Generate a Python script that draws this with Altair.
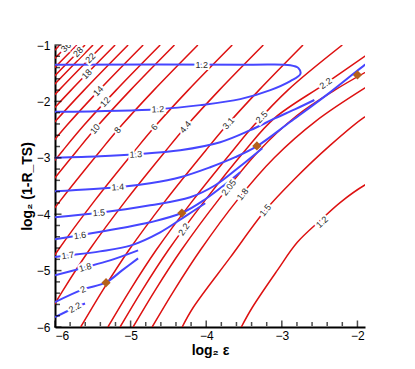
import altair as alt
import pandas as pd

# ---------------- red contours (x = log2 eps, y = log2(1-R_TS)) ----------------
red_40 = [(-7.218, -2.865), (-6.940, -2.42), (-6.516, -1.80), (-5.934, -1.0)]
red_36 = [(-7.112, -2.865), (-6.834, -2.42), (-6.410, -1.80), (-5.828, -1.0)]
red_32 = [(-6.993, -2.865), (-6.715, -2.42), (-6.291, -1.80), (-5.709, -1.0)]
red_28 = [(-6.887, -2.865), (-6.609, -2.42), (-6.185, -1.80), (-5.603, -1.0)]
red_25 = [(-6.781, -2.865), (-6.503, -2.42), (-6.079, -1.80), (-5.497, -1.0)]
red_22 = [(-6.648, -2.865), (-6.370, -2.42), (-5.946, -1.80), (-5.364, -1.0)]
red_18 = [(-7.019, -3.75), (-6.489, -2.865), (-6.211, -2.42), (-5.787, -1.80), (-5.205, -1.0)]
red_16 = [(-6.847, -3.75), (-6.317, -2.865), (-6.039, -2.42), (-5.615, -1.80), (-5.033, -1.0)]
red_14 = [(-6.648, -3.75), (-6.118, -2.865), (-5.840, -2.42), (-5.416, -1.80), (-4.834, -1.0)]
red_12 = [(-6.913, -4.64), (-6.423, -3.75), (-5.893, -2.865), (-5.615, -2.42), (-5.191, -1.80), (-4.609, -1.0)]
red_10 = [(-6.724, -4.64), (-6.234, -3.75), (-5.704, -2.865), (-5.426, -2.42), (-5.002, -1.80), (-4.420, -1.0)]
red_8 = [(-6.759, -5.35), (-6.414, -4.64), (-5.924, -3.75), (-5.394, -2.865), (-5.116, -2.42), (-4.692, -1.80), (-4.110, -1.0)]
red_6 = [(-6.596, -6.0), (-6.305, -5.35), (-5.960, -4.64), (-5.470, -3.75), (-4.940, -2.865), (-4.662, -2.42), (-4.238, -1.80), (-3.656, -1.0)]
red_4_4 = [(-6.185, -6.0), (-5.894, -5.35), (-5.549, -4.64), (-5.059, -3.75), (-4.529, -2.865), (-4.251, -2.42), (-3.827, -1.80), (-3.245, -1.0)]
red_3_1 = [(-5.660, -6.0), (-5.369, -5.35), (-5.024, -4.64), (-4.534, -3.75), (-4.004, -2.865), (-3.726, -2.42), (-3.302, -1.80), (-2.720, -1.0)]
red_2_5 = [(-5.300, -6.0), (-5.009, -5.35), (-4.664, -4.64), (-4.174, -3.75), (-3.644, -2.865), (-3.366, -2.42), (-2.920, -1.80), (-2.200, -1.0)]
red_2_2 = [(-5.139, -6.0), (-4.848, -5.35), (-4.503, -4.64), (-4.013, -3.75), (-3.483, -2.865), (-3.100, -2.30), (-2.420, -1.68), (-1.850, -1.15)]
red_2_05 = [(-4.967, -6.0), (-4.676, -5.35), (-4.331, -4.64), (-3.841, -3.75), (-3.320, -2.90), (-2.800, -2.25), (-2.300, -1.80), (-1.850, -1.45)]
red_1_8 = [(-4.715, -6.0), (-4.424, -5.35), (-4.079, -4.64), (-3.589, -3.75), (-3.100, -3.00), (-2.550, -2.35), (-1.850, -1.72)]
red_1_5 = [(-4.318, -6.0), (-4.172, -5.654), (-3.682, -4.766), (-3.219, -3.931), (-2.848, -3.398), (-2.358, -2.776), (-1.907, -2.279), (-1.850, -2.24)]
red_1_2 = [(-3.536, -6.0), (-3.391, -5.654), (-3.060, -4.996), (-2.795, -4.499), (-2.490, -4.108), (-2.225, -3.789), (-1.907, -3.487), (-1.850, -3.45)]

red_names = ["40", "36", "32", "28", "25", "22", "18", "16", "14", "12", "10", "8", "6",
             "4.4", "3.1", "2.5", "2.2", "2.05", "1.8", "1.5", "1.2"]
red_sets = [red_40, red_36, red_32, red_28, red_25, red_22, red_18, red_16, red_14, red_12,
            red_10, red_8, red_6, red_4_4, red_3_1, red_2_5, red_2_2, red_2_05, red_1_8,
            red_1_5, red_1_2]

# ---------------- blue contours ----------------
blue_1_2 = [(-6.0, -2.185), (-4.636, -2.137), (-4.079, -2.066), (-3.55, -1.96), (-3.152, -1.80),
            (-2.887, -1.64), (-2.755, -1.515), (-2.78, -1.41), (-2.887, -1.36), (-3.417, -1.35),
            (-6.0, -1.35)]
blue_1_3 = [(-6.0, -2.998), (-5.404, -2.972), (-4.927, -2.936), (-4.344, -2.865), (-3.815, -2.723),
            (-3.417, -2.510), (-3.086, -2.297), (-2.821, -2.137), (-2.570, -1.975)]
blue_1_4 = [(-6.0, -3.593), (-5.166, -3.522), (-4.742, -3.451), (-4.344, -3.345), (-3.947, -3.167),
            (-3.616, -2.989), (-3.328, -2.794), (-2.887, -2.362), (-2.358, -1.835), (-1.907, -1.355),
            (-1.85, -1.30)]
blue_1_5 = [(-6.0, -4.055), (-5.417, -3.975), (-4.742, -3.842), (-4.212, -3.700), (-3.881, -3.487),
            (-3.550, -3.149), (-3.258, -2.829)]
blue_1_6 = [(-6.0, -4.446), (-5.669, -4.375), (-5.139, -4.250), (-4.742, -4.144), (-4.318, -3.975),
            (-4.013, -3.735), (-3.748, -3.469), (-3.550, -3.256)]
blue_1_7 = [(-6.0, -4.757), (-5.828, -4.730), (-5.404, -4.659), (-4.993, -4.552), (-4.609, -4.321),
            (-4.278, -4.037), (-4.013, -3.806)]
blue_1_8 = [(-6.0, -5.085), (-5.603, -4.943), (-5.272, -4.819), (-4.901, -4.641)]
blue_2 = [(-6.0, -5.560), (-5.629, -5.334), (-5.325, -5.210), (-5.113, -4.996), (-4.901, -4.783)]
blue_2_2 = [(-6.0, -5.826), (-5.735, -5.654), (-5.603, -5.583)]

blue_names = ["1.2", "1.3", "1.4", "1.5", "1.6", "1.7", "1.8", "2", "2.2"]
blue_sets = [blue_1_2, blue_1_3, blue_1_4, blue_1_5, blue_1_6, blue_1_7, blue_1_8, blue_2, blue_2_2]

# ---------------- contour labels ----------------
red_label_text = ["1.2", "1.5", "1.8", "2.05", "2.2", "2.2", "2.5", "3.1", "4.4", "6", "8", "10",
                  "12", "14", "18", "22", "28", "36"]
red_label_x = [-2.468, -3.219, -3.52, -3.70, -4.295, -2.42, -3.265, -3.706, -4.274, -4.685, -5.172,
               -5.470, -5.336, -5.427, -5.580, -5.532, -5.693, -5.854]
red_label_y = [-4.139, -3.931, -3.647, -3.528, -4.268, -1.68, -2.279, -2.39, -2.456, -2.456, -2.51,
               -2.49, -2.012, -1.817, -1.515, -1.231, -1.124, -1.036]
red_label_angle = [317, 309, 309, 308, 306, 325, 314, 312, 310, 310, 310, 310, 312, 313, 314, 315, 315, 315]

blue_label_text = ["1.2", "1.2", "1.3", "1.4", "1.5", "1.6", "1.7", "1.8", "2", "2.2"]
blue_label_x = [-4.06, -4.64, -4.93, -5.17, -5.42, -5.67, -5.83, -5.60, -5.63, -5.735]
blue_label_y = [-1.35, -2.14, -2.94, -3.52, -3.975, -4.375, -4.73, -4.943, -5.334, -5.654]
blue_label_angle = [0, 358, 358, 357, 355, 352, 352, 345, 335, 330]

# ---------------- optimum points ----------------
diamond_x = [-5.325, -4.322, -3.33, -2.0]
diamond_y = [-5.215, -3.98, -2.79, -1.53]

# ---------------- ticks ----------------
x_major = [-6, -5, -4, -3, -2]
x_minor = [-5.8, -5.6, -5.4, -5.2, -4.8, -4.6, -4.4, -4.2, -3.8, -3.6, -3.4, -3.2,
           -2.8, -2.6, -2.4, -2.2]
y_major = [-6, -5, -4, -3, -2, -1]
y_minor = [-5.8, -5.6, -5.4, -5.2, -4.8, -4.6, -4.4, -4.2, -3.8, -3.6, -3.4, -3.2,
           -2.8, -2.6, -2.4, -2.2, -1.8, -1.6, -1.4, -1.2]


def lines_frame(names, sets):
    rows = []
    for name, pts in zip(names, sets):
        for i, (x, y) in enumerate(pts):
            rows.append({"line": name, "i": i, "x": x, "y": y})
    return pd.DataFrame(rows)


red_df = lines_frame(red_names, red_sets)
blue_df = lines_frame(blue_names, blue_sets)
labels_df = pd.DataFrame({
    "t": red_label_text + blue_label_text,
    "x": red_label_x + blue_label_x,
    "y": red_label_y + blue_label_y,
    "a": red_label_angle + blue_label_angle,
})
diamond_df = pd.DataFrame({"x": diamond_x, "y": diamond_y})
xt_df = pd.DataFrame({"v": x_major + x_minor, "len": [7] * len(x_major) + [4] * len(x_minor)})
yt_df = pd.DataFrame({"v": y_major + y_minor, "len": [7] * len(y_major) + [4] * len(y_minor)})

W, H = 310, 282
FONT = "Liberation Sans"

xscale = alt.Scale(domain=[-6, -1.9], nice=False, zero=False)
yscale = alt.Scale(domain=[-6, -1], nice=False, zero=False)
xaxis = alt.Axis(values=x_major, ticks=False, tickSize=0, grid=False, domainColor="black",
                 domainWidth=2, labelPadding=3, labelFontSize=12, labelFont=FONT,
                 labelColor="black", title="log₂ ε", titleFont=FONT, titleFontSize=14,
                 titleFontWeight="bold", titleColor="black", titleBaseline="alphabetic",
                 titleY=27)
yaxis = alt.Axis(values=y_major, ticks=False, tickSize=0, grid=False, domainColor="black",
                 domainWidth=2, labelPadding=5, labelFontSize=12, labelFont=FONT,
                 labelColor="black", title="log₂ (1-R_TS)", titleFont=FONT, titleFontSize=14,
                 titleFontWeight="bold", titleColor="black", titleAngle=270,
                 titleBaseline="middle", titleAlign="center", titleX=-28, titleY=H / 2)

X = alt.X("x:Q", scale=xscale, axis=xaxis)
Y = alt.Y("y:Q", scale=yscale, axis=yaxis)

red = alt.Chart(red_df).mark_line(color="#dd1111", strokeWidth=1.5, interpolate="catmull-rom",
                                   clip=True).encode(x=X, y=Y, detail="line:N", order="i:Q")
blue = alt.Chart(blue_df).mark_line(color="#4646ff", strokeWidth=2, interpolate="catmull-rom",
                                     clip=True).encode(x=X, y=Y, detail="line:N", order="i:Q")
halo = alt.Chart(labels_df).mark_text(font=FONT, fontSize=9, color="white", stroke="white",
                                      strokeWidth=4, clip=True).encode(
    x=X, y=Y, text="t:N", angle=alt.Angle("a:Q", scale=None))
text = alt.Chart(labels_df).mark_text(font=FONT, fontSize=9, color="#2a2a2a", clip=True).encode(
    x=X, y=Y, text="t:N", angle=alt.Angle("a:Q", scale=None))
diamonds = alt.Chart(diamond_df).mark_point(shape="diamond", filled=True, size=85, opacity=1,
                                            color="#b5601a").encode(x=X, y=Y)
xticks = alt.Chart(xt_df).mark_tick(color="black", thickness=1.5, orient="vertical").encode(
    x=alt.X("v:Q", scale=xscale, axis=xaxis), y=alt.value(H - 3),
    size=alt.Size("len:Q", scale=None, legend=None))
yticks = alt.Chart(yt_df).mark_tick(color="black", thickness=1.5, orient="horizontal").encode(
    y=alt.Y("v:Q", scale=yscale, axis=yaxis), x=alt.value(3),
    size=alt.Size("len:Q", scale=None, legend=None))

chart = alt.layer(red, blue, halo, text, diamonds, xticks, yticks).resolve_scale(
    size="independent"
).properties(
    width=W, height=H,
    padding={"left": 47, "top": 37, "right": 20, "bottom": 48},
    autosize=alt.AutoSizeParams(type="none"),
).configure_view(stroke=None)

chart.save("out.html", embed_options={"renderer": "svg", "actions": False})
